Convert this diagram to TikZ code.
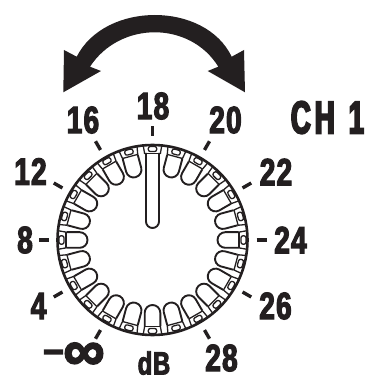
\documentclass[tikz,border=0pt]{standalone}
\usepackage{fontspec}
\setmainfont[FakeStretch=0.74,FakeBold=3,LetterSpace=3]{Liberation Sans Bold}
\newfontfamily\headfont[FakeStretch=0.6,FakeBold=4]{Liberation Sans Bold}
\newfontfamily\symbfont[FakeBold=3]{Liberation Sans Bold}
\usetikzlibrary{calc}
\definecolor{ink}{HTML}{231F20}
\tikzset{
  lbl/.style={text=ink, inner sep=0pt, font=\fontsize{38}{38}\selectfont},
  ringline/.style={draw=ink, line width=2.6pt},
  lobeline/.style={draw=ink, line width=1.9pt},
  cellline/.style={draw=ink, line width=1.3pt},
  tickline/.style={draw=ink, line width=3.4pt}
}
\begin{document}
\begin{tikzpicture}[x=1pt,y=1pt]
  \useasboundingbox (0,0) rectangle (372,376);
  \coordinate (c) at (152.5,136);
  % swing arrow
  \fill[ink] (64,326) -- (76.7,319.3) .. controls (105,374.9) and (205,374.9) .. (231.7,319.3)
    -- (244,326) -- (245,283.7) -- (207.7,305) -- (218.3,309.3)
    .. controls (190,355.2) and (120,355.2) .. (90,309.3)
    -- (101,305) -- (63.3,283.7) -- cycle;
  % lobes and cells
  \foreach \a in {0,15,...,345} {
    \begin{scope}[shift={(c)},rotate=\a]
      \ifnum\a=90
        \draw[cellline] (94,9.2) -- (86,7.8) (94,-9.2) -- (86,-7.8);
      \else
        \draw[lobeline] (86,7.8) -- (72.8,7.8) arc (90:270:7.8) -- (86,-7.8);
        \draw[cellline] (94,9.2) -- (86,7.8) (94,-9.2) -- (86,-7.8);
      \fi
      \draw[cellline] (86.5,-7.8) -- (86.5,7.8);
      \draw[cellline, rounded corners=2pt] (88.5,-4.2) rectangle (93.5,4.2);
    \end{scope}
  }
  \draw[ringline] (c) circle (95);
  % pointer
  \draw[lobeline] ($(c)+(-6.5,87)$) -- ($(c)+(-6.5,18.5)$) arc (180:360:6.5) -- ($(c)+(6.5,87)$);
  % ticks
  \foreach \a in {0,30,...,240,300,330} {
    \draw[tickline] ($(c)+(\a:104)$) -- ($(c)+(\a:114)$);
  }
  % labels
  \node[lbl] (n18) at (153,270) {18};
  \node[lbl] (n16) at (83,256) {16};
  \node[lbl] (n20) at (225.5,256) {20};
  \node[lbl] (n12) at (30.5,204.5) {12};
  \node[lbl] (n22) at (276,204) {22};
  \node[lbl] (n8) at (25,136) {8};
  \node[lbl] (n24) at (290.5,136) {24};
  \node[lbl] (n4) at (38.5,70) {4};
  \node[lbl] (n26) at (275.5,70) {26};
  \node[lbl] (n28) at (221.5,18) {28};
  \node[lbl, font=\fontsize{32}{32}\selectfont] (ndb) at (154,13) {dB};
  \node[lbl, font=\symbfont\fontsize{36}{36}\selectfont] (nminus) at (53.5,19) {−};
  \node[lbl, font=\symbfont\fontsize{58}{58}\selectfont] (ninf) at (84,19.5) {∞};
  \node[lbl, font=\headfont\fontsize{46}{46}\selectfont] (ch) at (327.5,258.5) {C\kern4pt H\kern14pt 1};
\end{tikzpicture}
\end{document}
